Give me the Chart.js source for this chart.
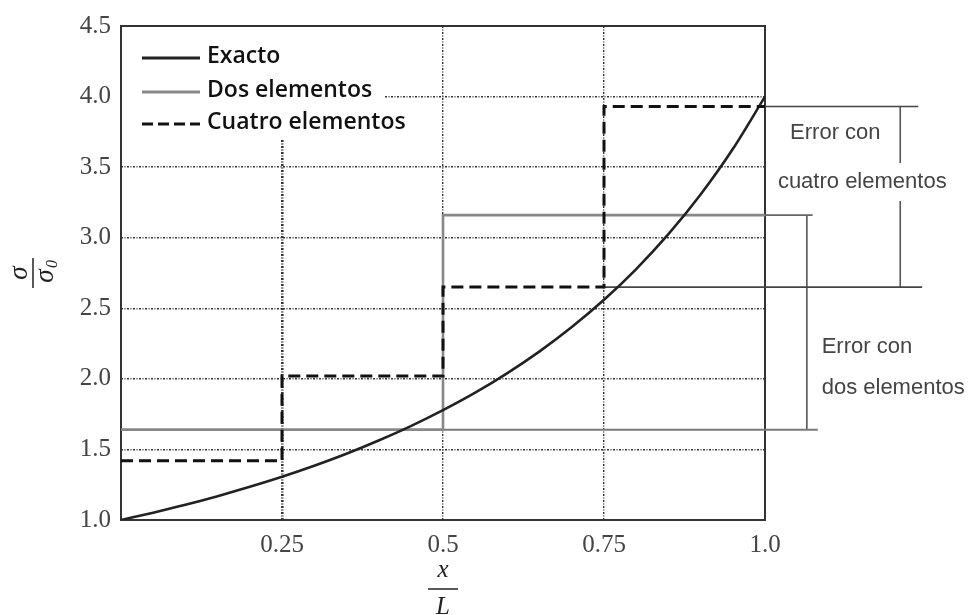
<!DOCTYPE html>
<html lang="es">
<head>
<meta charset="utf-8">
<title>Esfuerzo σ/σ0 a lo largo de la barra</title>
<script src="https://cdn.jsdelivr.net/npm/chart.js@4.4.0/dist/chart.umd.min.js"></script>
<style>
  html, body { margin: 0; padding: 0; background: #fff; }
  #wrap { width: 973px; height: 615px; position: relative; }
</style>
</head>
<body>
<div id="wrap"><canvas id="grafico"></canvas></div>
<script>
// ── DATOS ──
var xExacto = [0, 0.05, 0.1, 0.15, 0.2, 0.25, 0.3, 0.35, 0.4, 0.45, 0.5, 0.55, 0.6, 0.65, 0.7, 0.75, 0.8, 0.85, 0.9, 0.95, 1.0];
var yExacto = [1.0, 1.052, 1.108, 1.169, 1.235, 1.306, 1.384, 1.469, 1.563, 1.665, 1.778, 1.902, 2.041, 2.195, 2.367, 2.56, 2.778, 3.025, 3.306, 3.628, 4.0];

var xDos = [0, 0.5, 0.5, 1.0];
var yDos = [1.64, 1.64, 3.16, 3.16];

var xCuatro = [0, 0.25, 0.25, 0.5, 0.5, 0.75, 0.75, 1.0];
var yCuatro = [1.42, 1.42, 2.02, 2.02, 2.65, 2.65, 3.93, 3.93];

var xTickLabels = ['', '0.25', '0.5', '0.75', '1.0'];
var yTickLabels = ['1.0', '1.5', '2.0', '2.5', '3.0', '3.5', '4.0', '4.5'];
var nombresSeries = ['Exacto', 'Dos elementos', 'Cuatro elementos'];

// cotas de error a la derecha (x, y)
var cotaDosInf     = [[0.5, 1.64], [1.082, 1.64]];
var cotaDosSup     = [[1.0, 3.16], [1.074, 3.16]];
var cotaCuatroInf  = [[0.75, 2.65], [1.244, 2.65]];
var cotaCuatroSup  = [[1.0, 3.93], [1.238, 3.93]];
var corcheteDos    = [[1.065, 3.16], [1.065, 1.64]];
var corcheteCuatA  = [[1.21, 3.93], [1.21, 3.53]];
var corcheteCuatB  = [[1.21, 3.26], [1.21, 2.65]];
var textosCota     = ['Error con', 'cuatro elementos', 'Error con', 'dos elementos'];

function puntos(xs, ys) {
  return xs.map(function(x, i) { return {x: x, y: ys[i]}; });
}
function pares(arr) {
  return arr.map(function(p) { return {x: p[0], y: p[1]}; });
}
function cota(arr, color, ancho) {
  return {data: pares(arr), borderColor: color, borderWidth: ancho, pointRadius: 0, clip: false, tension: 0};
}

// ── PLUGIN: marco, leyenda, títulos y textos ──
var marco = {
  id: 'marco',
  beforeDatasetsDraw: function(chart) {
    var c = chart.ctx, a = chart.chartArea;
    c.save();
    c.fillStyle = '#fff';
    c.fillRect(a.left + 1, a.top + 1, 263, 113);
    c.strokeStyle = '#333';
    c.lineWidth = 2;
    c.strokeRect(a.left, a.top, a.right - a.left, a.bottom - a.top);
    c.restore();
  },
  afterDatasetsDraw: function(chart) {
    var c = chart.ctx, a = chart.chartArea;
    var filas = [30, 64, 96];
    var estilos = [
      {color: '#222', dash: []},
      {color: '#888', dash: []},
      {color: '#111', dash: [11, 5]}
    ];
    c.save();
    c.font = '600 23px "Open Sans"';
    c.textBaseline = 'middle';
    c.textAlign = 'left';
    filas.forEach(function(dy, i) {
      var y = a.top + dy;
      c.beginPath();
      c.strokeStyle = estilos[i].color;
      c.lineWidth = 3;
      c.setLineDash(estilos[i].dash);
      c.moveTo(a.left + 21, y + 2);
      c.lineTo(a.left + 79, y + 2);
      c.stroke();
      c.fillStyle = '#111';
      c.fillText(nombresSeries[i], a.left + 86, y);
    });
    c.restore();
  },
  afterDraw: function(chart) {
    var c = chart.ctx, a = chart.chartArea;
    var xs = chart.scales.x, ys = chart.scales.y;
    c.save();
    // textos de error
    c.fillStyle = '#444';
    c.font = '22px "Liberation Sans"';
    c.textBaseline = 'middle';
    c.textAlign = 'left';
    c.fillText(textosCota[0], xs.getPixelForValue(1.039), ys.getPixelForValue(3.745));
    c.fillText(textosCota[1], xs.getPixelForValue(1.02), ys.getPixelForValue(3.397));
    c.fillText(textosCota[2], xs.getPixelForValue(1.088), ys.getPixelForValue(2.227));
    c.fillText(textosCota[3], xs.getPixelForValue(1.088), ys.getPixelForValue(1.936));

    // título eje x: x / L
    var cx = (a.left + a.right) / 2;
    c.fillStyle = '#222';
    c.font = 'italic 25px "Liberation Serif"';
    c.textAlign = 'center';
    c.fillText('x', cx, a.bottom + 50);
    c.beginPath();
    c.strokeStyle = '#222';
    c.lineWidth = 1.5;
    c.moveTo(cx - 15, a.bottom + 69);
    c.lineTo(cx + 15, a.bottom + 69);
    c.stroke();
    c.fillText('L', cx, a.bottom + 87);

    // título eje y: σ / σ0 (girado)
    var cy = (a.top + a.bottom) / 2;
    c.translate(33, cy);
    c.rotate(-Math.PI / 2);
    c.font = 'italic 27px "Liberation Serif"';
    c.fillText('σ', 0, -13);
    c.beginPath();
    c.moveTo(-15, 0);
    c.lineTo(15, 0);
    c.stroke();
    c.fillText('σ', -3, 13);
    c.font = 'italic 16px "Liberation Serif"';
    c.fillText('0', 9, 20);
    c.restore();
  }
};

var grid = {
  color: '#333',
  drawTicks: false,
  lineWidth: function(ctx) { return ctx.tick && ctx.tick.value === 0.25 ? 2.6 : 1.4; }
};

new Chart(document.getElementById('grafico'), {
  type: 'line',
  data: {
    datasets: [
      {label: nombresSeries[2], data: puntos(xCuatro, yCuatro), borderColor: '#111', borderWidth: 3,
       borderDash: [12, 6], pointRadius: 0, tension: 0},
      {label: nombresSeries[0], data: puntos(xExacto, yExacto), borderColor: '#222', borderWidth: 2.6,
       pointRadius: 0, cubicInterpolationMode: 'monotone'},
      {label: nombresSeries[1], data: puntos(xDos, yDos), borderColor: '#888', borderWidth: 2.6,
       pointRadius: 0, tension: 0},
      cota(cotaDosInf, '#7a7a7a', 2),
      cota(cotaDosSup, '#666', 1.6),
      cota(cotaCuatroInf, '#444', 1.6),
      cota(cotaCuatroSup, '#444', 1.6),
      cota(corcheteDos, '#555', 1.6),
      cota(corcheteCuatA, '#555', 1.6),
      cota(corcheteCuatB, '#555', 1.6)
    ]
  },
  options: {
    responsive: true, maintainAspectRatio: false, animation: false, devicePixelRatio: 1,
    events: [],
    layout: {padding: {top: 26, right: 208, left: 0, bottom: 0}},
    plugins: {legend: {display: false}, tooltip: {enabled: false}},
    scales: {
      x: {
        type: 'linear', min: 0, max: 1,
        ticks: {stepSize: 0.25, autoSkip: false, maxRotation: 0, padding: 10, color: '#444',
                font: {family: 'Liberation Serif', size: 25},
                callback: function(v, i) { return xTickLabels[i]; }},
        grid: grid,
        border: {display: false, dash: [2, 1.5, 1, 1.5]},
        afterFit: function(s) { s.height = 95; }
      },
      y: {
        type: 'linear', min: 1, max: 4.5,
        ticks: {stepSize: 0.5, padding: 10, color: '#444',
                font: {family: 'Liberation Serif', size: 25},
                callback: function(v, i) { return yTickLabels[i]; }},
        grid: grid,
        border: {display: false, dash: [2, 1.5, 1, 1.5]},
        afterFit: function(s) { s.width = 121; }
      }
    }
  },
  plugins: [marco]
});
</script>
</body>
</html>
